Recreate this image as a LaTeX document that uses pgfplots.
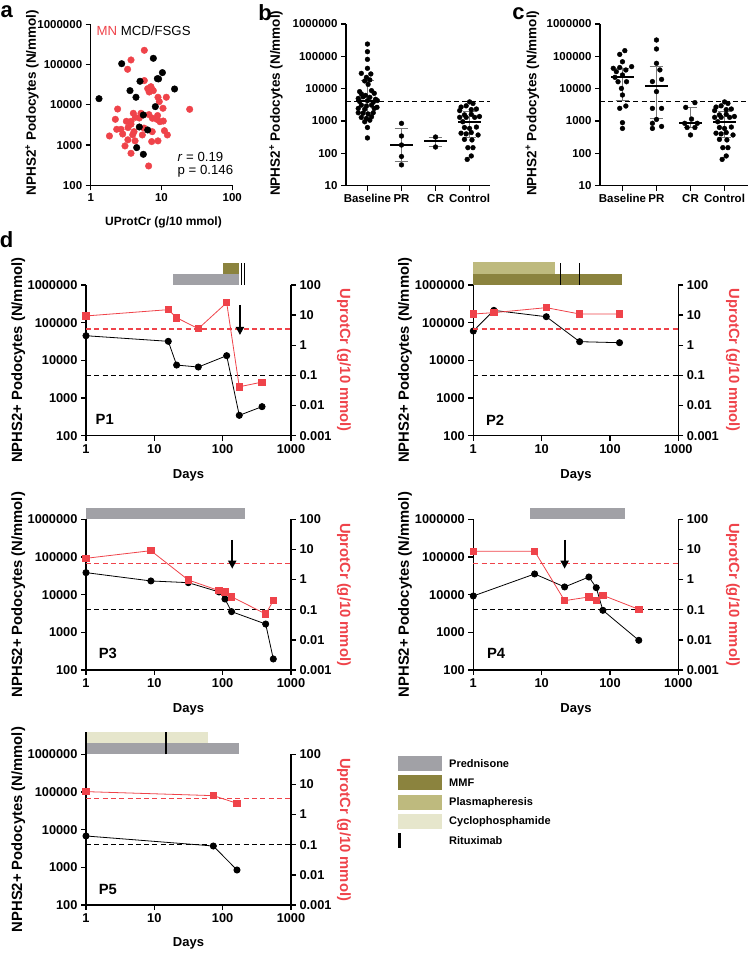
\documentclass[border=0pt]{standalone}
\usepackage{fontspec}
\setmainfont{Liberation Sans}
\usepackage{pgfplots}
\pgfplotsset{compat=1.18}
\usetikzlibrary{arrows.meta}

\definecolor{mnred}{RGB}{239,67,74}
\definecolor{pred}{RGB}{161,161,166}
\definecolor{mmf}{RGB}{139,131,62}
\definecolor{plasma}{RGB}{190,186,126}
\definecolor{cyclo}{RGB}{230,230,204}
\definecolor{errgray}{RGB}{120,120,120}

\newcommand{\fntA}{\fontsize{11.5}{13}\selectfont\bfseries}
\newcommand{\fntD}{\fontsize{12.8}{14}\selectfont\bfseries}
\newcommand{\fntL}{\fontsize{14.8}{16}\selectfont\bfseries}

\pgfplotsset{
  gp/.style={scale only axis, anchor=south west,
    axis x line=bottom, axis y line=left,
    axis line style={-, line width=1.3pt},
    tick align=outside, major tick length=5pt,
    major tick style={black, line width=1.3pt},
    xminorticks=false, yminorticks=false, clip=false},
  rightax/.style={scale only axis, anchor=south west,
    axis x line=none, axis y line=right,
    axis line style={-, line width=1.3pt},
    tick align=outside, major tick length=5pt,
    major tick style={black, line width=1.3pt},
    xminorticks=false, yminorticks=false, clip=false},
  blk/.style={black, line width=0.8pt, mark=*, mark size=3.1pt, mark options={solid}},
  rsq/.style={mnred, line width=0.8pt, mark=square*, mark size=3.2pt, mark options={solid}},
  thr/.style={line width=1.3pt, dash pattern=on 5pt off 3.3pt},
  scat/.style={only marks, mark=*, mark size=2.4pt, black},
  iqrline/.style={errgray, line width=1pt},
  medline/.style={black, line width=1.7pt},
  dleft/.style={gp, width=205pt, height=150.7pt,
    xmin=1, xmax=1000, ymin=100, ymax=1000000,
    xtick={1,10,100,1000}, xticklabels={1,10,100,1000},
    ytick={100,1000,10000,100000,1000000},
    yticklabels={100,1000,10000,100000,1000000},
    tick label style={font=\fntD}},
  dright/.style={rightax, width=205pt, height=150.7pt,
    xmin=1, xmax=1000, ymin=0.001, ymax=100,
    ytick={0.001,0.01,0.1,1,10,100},
    yticklabels={0.001,0.01,0.1,1,10,100},
    tick label style={font=\fntD}},
}

\begin{document}
\begin{tikzpicture}
\path[use as bounding box] (0pt,0pt) rectangle (750pt,954pt);

% ---------------- panel a ----------------
\begin{axis}[gp, at={(90.7pt,768.7pt)}, width=141.6pt, height=161pt,
  xmode=log, ymode=log, xmin=1, xmax=100, ymin=100, ymax=1000000,
  xtick={1,10,100}, xticklabels={1,10,100},
  ytick={100,1000,10000,100000,1000000},
  yticklabels={100,1000,10000,100000,1000000},
  tick label style={font=\fntA}]
\addplot[only marks, mark=*, mark size=3.3pt, mnred] coordinates {
 (5.72,226000) (3.71,130000) (3.32,76300) (5.72,40000) (6.38,25200)
 (7.1,28200) (7.3,24000) (6.7,20800) (7.67,22500) (8.92,15400)
 (11.7,15400) (9.3,12000) (10.5,8190) (25,7730) (2.4,7850)
 (4.0,6150) (5.13,6150) (6.65,5700) (3.19,3890) (3.71,3890)
 (4.27,4890) (2.23,4360) (4.86,4700) (7.44,4620) (8.8,5400)
 (8.6,4360) (9.5,3800) (10.6,3950) (3.37,2710) (2.68,2460)
 (2.33,2460) (3.71,3300) (4.09,2150) (5.66,2640) (2.83,1880)
 (1.84,1680) (3.92,1800) (5.36,1780) (7.4,2150) (11,2270)
 (12.1,1780) (4.23,1270) (7.27,1220) (8.92,1270) (3.05,950)
 (3.71,624) (6.58,302) (3.35,1350)};
\addplot[only marks, mark=*, mark size=3.3pt, black] coordinates {
 (1.31,14200) (2.74,105000) (7.67,143000) (10.3,63000) (8.74,44600)
 (9.1,44000) (4.97,38400) (3.59,22500) (4.36,15400) (15.3,24700)
 (8.18,9000) (5.54,5580) (4.86,2810) (6.38,2370) (4.46,863) (5.54,589)};
\end{axis}
\node[anchor=west, inner sep=0pt, font=\fontsize{13.2}{15}\selectfont] at (96.5pt,923.3pt)
  {\textcolor{mnred}{MN} MCD/FSGS};
\node[anchor=west, inner sep=0pt, font=\fontsize{13.2}{15}\selectfont] at (177.5pt,797.3pt)
  {\textit{r} = 0.19};
\node[anchor=west, inner sep=0pt, font=\fontsize{13.2}{15}\selectfont] at (177.5pt,782.3pt)
  {p = 0.146};
\node[rotate=90, font=\fontsize{13.5}{15}\selectfont\bfseries] at (32pt,851.5pt)
  {NPHS2\textsuperscript{+} Podocytes (N/mmol)};
\node[font=\fontsize{12}{14}\selectfont\bfseries] at (163.5pt,732pt)
  {UProtCr (g/10 mmol)};

% ---------------- panel b ----------------
\begin{axis}[gp, at={(346pt,768.3pt)}, width=144pt, height=161.7pt,
  ymode=log, ymin=10, ymax=1000000, xmin=-0.63, xmax=3.6,
  xtick={0,1,2,3}, xticklabels={Baseline,PR,CR,Control},
  ytick={10,100,1000,10000,100000,1000000},
  yticklabels={10,100,1000,10000,100000,1000000},
  tick label style={font=\fntA}]
\addplot[black, thr] coordinates {(-0.63,4000) (3.6,4000)};
\addplot[scat] coordinates {
 (0,240000) (0,139000) (0,80700) (0,42600) (-0.18,29800) (0.1,28500)
 (-0.03,22400) (-0.08,17300) (0.07,18700) (0.02,13600) (-0.23,8100)
 (0.12,8700) (-0.18,6900) (-0.06,6200) (0.2,7180) (-0.27,5000)
 (-0.13,5600) (0.07,5400) (0.24,4700) (-0.23,4000) (0,4250) (0.17,3800)
 (0.29,4300) (-0.18,3100) (-0.03,2900) (0.12,3100) (-0.27,2450)
 (-0.08,2300) (0.2,2450) (0.28,2650) (-0.27,1800) (-0.13,1740)
 (0.02,1650) (0.17,1800) (-0.18,1290) (-0.03,1200) (0.12,1350)
 (-0.08,950) (0.07,1060) (0,630) (0,300)};
\addplot[scat] coordinates {(1,847) (1,344) (1,181) (1,80) (1,44)};
\addplot[scat] coordinates {(2,320) (2,157)};
\addplot[scat] coordinates {
 (3,3900) (3.1,3500) (2.75,2700) (2.9,2950) (2.71,2100) (3.05,2250)
 (3.2,2350) (2.85,1550) (3.05,1600) (2.71,1300) (2.9,1300) (3.15,1300)
 (3.29,1380) (2.8,950) (2.85,630) (3,590) (3.2,650) (2.75,420) (2.9,400)
 (3.05,440) (3.25,370) (2.85,270) (3.07,260) (2.95,150) (3.1,150)
 (3.05,83) (2.93,65)};
% medians with interquartile ranges
\addplot[iqrline] coordinates {(0,1800) (0,17500)};
\addplot[iqrline] coordinates {(-0.2,1800) (0.2,1800)};
\addplot[iqrline] coordinates {(-0.2,17500) (0.2,17500)};
\addplot[medline] coordinates {(-0.33,4200) (0.33,4200)};
\addplot[iqrline] coordinates {(1,57) (1,580)};
\addplot[iqrline] coordinates {(0.8,57) (1.2,57)};
\addplot[iqrline] coordinates {(0.8,580) (1.2,580)};
\addplot[medline] coordinates {(0.67,181) (1.33,181)};
\addplot[iqrline] coordinates {(2,161) (2,320)};
\addplot[iqrline] coordinates {(1.8,161) (2.2,161)};
\addplot[iqrline] coordinates {(1.8,320) (2.2,320)};
\addplot[medline] coordinates {(1.67,240) (2.33,240)};
\addplot[iqrline] coordinates {(3,300) (3,1900)};
\addplot[iqrline] coordinates {(2.8,300) (3.2,300)};
\addplot[iqrline] coordinates {(2.8,1900) (3.2,1900)};
\addplot[medline] coordinates {(2.67,950) (3.33,950)};
\end{axis}
\node[rotate=90, font=\fontsize{13.5}{15}\selectfont\bfseries] at (276pt,850.7pt)
  {NPHS2\textsuperscript{+} Podocytes (N/mmol)};

% ---------------- panel c ----------------
\begin{axis}[gp, at={(600pt,768.3pt)}, width=148pt, height=161.7pt,
  ymode=log, ymin=10, ymax=1000000, xmin=-0.66, xmax=3.69,
  xtick={0,1,2,3}, xticklabels={Baseline,PR,CR,Control},
  ytick={10,100,1000,10000,100000,1000000},
  yticklabels={10,100,1000,10000,100000,1000000},
  tick label style={font=\fntA}]
\addplot[black, thr] coordinates {(-0.66,4000) (3.69,4000)};
\addplot[scat] coordinates {
 (0.07,150000) (-0.08,115000) (0,68000) (-0.27,42600) (-0.08,45000)
 (0.27,48000) (-0.18,33600) (0.1,37800) (0,26500) (-0.22,22400)
 (-0.13,16400) (0.12,16400) (-0.03,10200) (0,6370) (-0.08,2470)
 (0.1,2910) (0,890) (0,590)};
\addplot[scat] coordinates {
 (1,320000) (1,169000) (1,60800) (1.1,38000) (0.88,16600) (1.15,19400)
 (1,8100) (0.88,2460) (1.15,2460) (1,1120) (0.88,850) (1.15,680) (0.88,590)};
\addplot[scat] coordinates {
 (2.13,3700) (1.86,2640) (2.03,1150) (1.83,850) (2.2,850) (1.9,630)
 (2.13,630) (2,370)};
\addplot[scat] coordinates {
 (3,3900) (3.1,3500) (2.75,2700) (2.9,2950) (2.71,2100) (3.05,2250)
 (3.2,2350) (2.85,1550) (3.05,1600) (2.71,1300) (2.9,1300) (3.15,1300)
 (3.29,1380) (2.8,950) (2.85,630) (3,590) (3.2,650) (2.75,420) (2.9,400)
 (3.05,440) (3.25,370) (2.85,270) (3.07,260) (2.95,150) (3.1,150)
 (3.05,83) (2.93,65)};
\addplot[iqrline] coordinates {(0,4460) (0,42500)};
\addplot[iqrline] coordinates {(-0.2,4460) (0.2,4460)};
\addplot[iqrline] coordinates {(-0.2,42500) (0.2,42500)};
\addplot[medline] coordinates {(-0.33,22400) (0.33,22400)};
\addplot[iqrline] coordinates {(1,1160) (1,47000)};
\addplot[iqrline] coordinates {(0.8,1160) (1.2,1160)};
\addplot[iqrline] coordinates {(0.8,47000) (1.2,47000)};
\addplot[medline] coordinates {(0.67,12000) (1.33,12000)};
\addplot[iqrline] coordinates {(2,630) (2,2640)};
\addplot[iqrline] coordinates {(1.8,630) (2.2,630)};
\addplot[iqrline] coordinates {(1.8,2640) (2.2,2640)};
\addplot[medline] coordinates {(1.67,890) (2.33,890)};
\addplot[iqrline] coordinates {(3,300) (3,1900)};
\addplot[iqrline] coordinates {(2.8,300) (3.2,300)};
\addplot[iqrline] coordinates {(2.8,1900) (3.2,1900)};
\addplot[medline] coordinates {(2.67,950) (3.33,950)};
\end{axis}
\node[rotate=90, font=\fontsize{13.5}{15}\selectfont\bfseries] at (532.3pt,850.7pt)
  {NPHS2\textsuperscript{+} Podocytes (N/mmol)};

% ---------------- panel d ----------------
% P1
\begin{axis}[dleft, xmode=log, ymode=log, at={(86pt,518.3pt)}]
\addplot[fill=pred, draw=none] coordinates {(18.5,1e6) (175,1e6) (175,1.95e6) (18.5,1.95e6)} -- cycle;
\addplot[fill=mmf, draw=none] coordinates {(102,2e6) (175,2e6) (175,3.9e6) (102,3.9e6)} -- cycle;
\addplot[black, line width=1.5pt] coordinates {(188,1e6) (188,3.9e6)};
\addplot[black, line width=1.5pt] coordinates {(210,1e6) (210,3.9e6)};
\addplot[black, thr] coordinates {(1,4000) (1000,4000)};
\addplot[blk] coordinates {(1,45000) (16,32000) (21.2,7500) (44,6650) (114.5,13300) (175,347) (377,590)};
\node[anchor=west, font=\fntL] at (rel axis cs:0.03,0.105) {P1};
\end{axis}
\begin{axis}[dright, xmode=log, ymode=log, at={(86pt,518.3pt)}]
\addplot[mnred, thr] coordinates {(1,3.5) (1000,3.5)};
\addplot[rsq] coordinates {(1,9.4) (16,15.2) (21.2,8.2) (44,3.56) (114.5,25.9) (175,0.042) (377,0.060)};
\addplot[black, line width=1.8pt, -{Triangle[width=8pt,length=8pt]}] coordinates {(179,21.7) (179,2.2)};
\end{axis}
\node[rotate=90, font=\fntL] at (18.3pt,593.7pt) {NPHS2+ Podocytes (N/mmol)};
\node[rotate=-90, font=\fntL, text=mnred] at (344pt,593.7pt) {UprotCr (g/10 mmol)};
\node[font=\fontsize{13}{15}\selectfont\bfseries] at (188.5pt,479pt) {Days};

% P2
\begin{axis}[dleft, xmode=log, ymode=log, at={(473.3pt,518.3pt)}]
\addplot[fill=mmf, draw=none] coordinates {(1,1e6) (149,1e6) (149,2e6) (1,2e6)} -- cycle;
\addplot[fill=plasma, draw=none] coordinates {(1,2e6) (15.5,2e6) (15.5,4e6) (1,4e6)} -- cycle;
\addplot[black, line width=1.5pt] coordinates {(18.8,1e6) (18.8,3.9e6)};
\addplot[black, line width=1.5pt] coordinates {(36,1e6) (36,3.9e6)};
\addplot[black, thr] coordinates {(1,4000) (1000,4000)};
\addplot[blk] coordinates {(1,60000) (2,212000) (11.7,144000) (36,31300) (138,29400)};
\node[anchor=west, font=\fntL] at (rel axis cs:0.045,0.105) {P2};
\end{axis}
\begin{axis}[dright, xmode=log, ymode=log, at={(473.3pt,518.3pt)}]
\addplot[mnred, thr] coordinates {(1,3.5) (1000,3.5)};
\addplot[rsq] coordinates {(1,10.9) (2,12.1) (11.7,17.7) (36,10.9) (138,10.9)};
\end{axis}
\node[rotate=90, font=\fntL] at (405pt,593.7pt) {NPHS2+ Podocytes (N/mmol)};
\node[rotate=-90, font=\fntL, text=mnred] at (733pt,593.7pt) {UprotCr (g/10 mmol)};
\node[font=\fontsize{13}{15}\selectfont\bfseries] at (576pt,479pt) {Days};

% P3
\begin{axis}[dleft, xmode=log, ymode=log, at={(86pt,284pt)}]
\addplot[fill=pred, draw=none] coordinates {(1,1e6) (212,1e6) (212,1.95e6) (1,1.95e6)} -- cycle;
\addplot[black, thr] coordinates {(1,4000) (1000,4000)};
\addplot[blk] coordinates {(1,38400) (8.9,23100) (31.4,20800) (88.4,11800) (108,7670) (135,3540) (426,1660) (551,196)};
\node[anchor=west, font=\fntL] at (rel axis cs:0.045,0.11) {P3};
\end{axis}
\begin{axis}[dright, xmode=log, ymode=log, at={(86pt,284pt)}]
\addplot[mnred, thr] coordinates {(1,3.5) (1000,3.5)};
\addplot[rsq] coordinates {(1,5.08) (8.9,9.1) (31.4,0.97) (88.4,0.43) (108,0.39) (135,0.27) (426,0.072) (551,0.2)};
\addplot[black, line width=1.8pt, -{Triangle[width=8pt,length=8pt]}] coordinates {(138,20.6) (138,2.3)};
\end{axis}
\node[rotate=90, font=\fntL] at (18.3pt,359.4pt) {NPHS2+ Podocytes (N/mmol)};
\node[rotate=-90, font=\fntL, text=mnred] at (344pt,359.4pt) {UprotCr (g/10 mmol)};
\node[font=\fontsize{13}{15}\selectfont\bfseries] at (188.5pt,244.7pt) {Days};

% P4
\begin{axis}[dleft, xmode=log, ymode=log, at={(473.3pt,284pt)}]
\addplot[fill=pred, draw=none] coordinates {(6.8,1e6) (167,1e6) (167,1.95e6) (6.8,1.95e6)} -- cycle;
\addplot[black, thr] coordinates {(1,4000) (1000,4000)};
\addplot[blk] coordinates {(1,9220) (7.9,35400) (21.7,16000) (49.2,29400) (63,15300) (78.7,3840) (264,614)};
\node[anchor=west, font=\fntL] at (rel axis cs:0.05,0.11) {P4};
\end{axis}
\begin{axis}[dright, xmode=log, ymode=log, at={(473.3pt,284pt)}]
\addplot[mnred, thr] coordinates {(1,3.5) (1000,3.5)};
\addplot[rsq] coordinates {(1,8.67) (7.9,8.67) (21.7,0.2) (49.2,0.265) (63,0.205) (78.7,0.30) (264,0.103)};
\addplot[black, line width=1.8pt, -{Triangle[width=8pt,length=8pt]}] coordinates {(21.7,20.6) (21.7,2.3)};
\end{axis}
\node[rotate=90, font=\fntL] at (405pt,359.4pt) {NPHS2+ Podocytes (N/mmol)};
\node[rotate=-90, font=\fntL, text=mnred] at (733pt,359.4pt) {UprotCr (g/10 mmol)};
\node[font=\fontsize{13}{15}\selectfont\bfseries] at (576pt,244.7pt) {Days};

% P5
\begin{axis}[dleft, xmode=log, ymode=log, at={(86pt,49pt)}]
\addplot[fill=pred, draw=none] coordinates {(1,1e6) (171,1e6) (171,1.95e6) (1,1.95e6)} -- cycle;
\addplot[fill=cyclo, draw=none] coordinates {(1,1.95e6) (61.7,1.95e6) (61.7,3.9e6) (1,3.9e6)} -- cycle;
\addplot[black, line width=1.5pt] coordinates {(1,1e6) (1,3.9e6)};
\addplot[black, line width=1.5pt] coordinates {(14.8,1e6) (14.8,3.9e6)};
\addplot[black, thr] coordinates {(1,4000) (1000,4000)};
\addplot[blk] coordinates {(1,6790) (73,3680) (162,849)};
\node[anchor=west, font=\fntL] at (rel axis cs:0.045,0.1) {P5};
\end{axis}
\begin{axis}[dright, xmode=log, ymode=log, at={(86pt,49pt)}]
\addplot[mnred, thr] coordinates {(1,3.5) (1000,3.5)};
\addplot[rsq] coordinates {(1,5.77) (73,4.25) (162,2.37)};
\end{axis}
\node[rotate=90, font=\fntL] at (18.3pt,124.4pt) {NPHS2+ Podocytes (N/mmol)};
\node[rotate=-90, font=\fntL, text=mnred] at (344pt,124.4pt) {UprotCr (g/10 mmol)};
\node[font=\fontsize{13}{15}\selectfont\bfseries] at (188.5pt,10.5pt) {Days};

% ---------------- treatment key ----------------
\fill[pred] (398.3pt,183pt) rectangle (441.7pt,198pt);
\fill[mmf] (398.3pt,163.7pt) rectangle (441.7pt,178.7pt);
\fill[plasma] (398.3pt,144pt) rectangle (441.7pt,159pt);
\fill[cyclo] (398.3pt,124.7pt) rectangle (441.7pt,139.7pt);
\fill[black] (398.3pt,106pt) rectangle (400.8pt,121pt);
\begin{scope}[every node/.style={anchor=west, inner sep=0pt, font=\fontsize{11}{13}\selectfont\bfseries}]
\node at (449pt,190.5pt) {Prednisone};
\node at (449pt,171.2pt) {MMF};
\node at (449pt,151.5pt) {Plasmapheresis};
\node at (449pt,132.2pt) {Cyclophosphamide};
\node at (449pt,113.5pt) {Rituximab};
\end{scope}

% ---------------- panel letters ----------------
\begin{scope}[every node/.style={anchor=base, font=\fontsize{22}{24}\selectfont\bfseries}]
\node at (6.7pt,936pt) {a};
\node at (265pt,933.5pt) {b};
\node at (518.5pt,934.5pt) {c};
\node at (6.5pt,706pt) {d};
\end{scope}
\end{tikzpicture}
\end{document}
